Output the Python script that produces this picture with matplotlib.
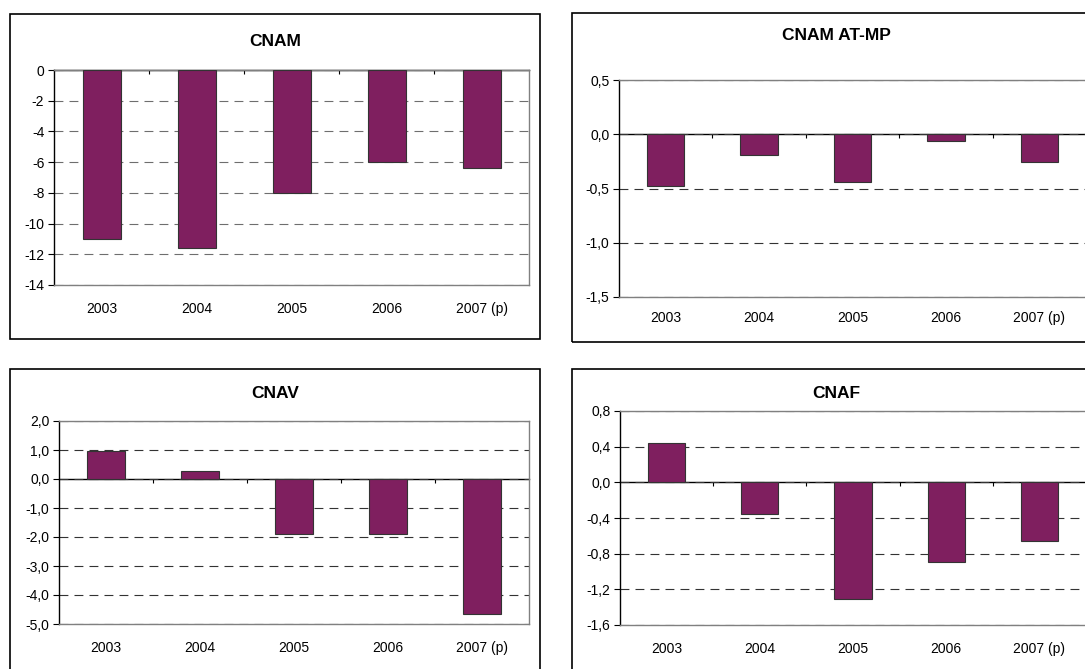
#!/usr/bin/env python3
"""
Balances of the social security branches, 2003-2007 (p)
"""
import matplotlib
matplotlib.use('Agg')
import matplotlib.pyplot as plt
from matplotlib.patches import Rectangle
from matplotlib.ticker import FixedLocator, FuncFormatter

plt.rcParams['font.family'] = ['Liberation Sans', 'DejaVu Sans']

years = ['2003', '2004', '2005', '2006', '2007 (p)']
cnam = [-11.0, -11.6, -8.0, -6.0, -6.4]
cnam_atmp = [-0.48, -0.19, -0.44, -0.06, -0.26]
cnav = [0.97, 0.27, -1.88, -1.88, -4.67]
cnaf = [0.44, -0.36, -1.31, -0.89, -0.66]

cnam_ticks = [0, -2, -4, -6, -8, -10, -12, -14]
atmp_ticks = [0.5, 0.0, -0.5, -1.0, -1.5]
cnav_ticks = [2.0, 1.0, 0.0, -1.0, -2.0, -3.0, -4.0, -5.0]
cnaf_ticks = [0.8, 0.4, 0.0, -0.4, -0.8, -1.2, -1.6]

BAR_COLOR = '#7f1f5f'
W, H = 1085, 669

fig = plt.figure(figsize=(W / 100, H / 100), dpi=100)


def px_rect(x0, y0, x1, y1):
    """ Converts pixel box (top-left origin) to figure fraction rect """
    return [x0 / W, 1 - y1 / H, (x1 - x0) / W, (y1 - y0) / H]


def comma_fmt(decimals):
    """ French style number format """
    def fmt(v, _):
        if decimals == 0:
            return '%d' % round(v)
        return ('%.*f' % (decimals, v)).replace('.', ',')
    return FuncFormatter(fmt)


def draw_panel(frame, box, title, title_y, values, ticks, decimals,
               grid_color='#333333', xpad=12):
    """ Draws one framed bar chart panel """
    fx0, fy0, fx1, fy1 = frame
    fig.patches.append(Rectangle((fx0 / W, 1 - fy1 / H), (fx1 - fx0) / W, (fy1 - fy0) / H,
                                 transform=fig.transFigure, fill=False,
                                 edgecolor='black', linewidth=1.2))
    fig.text((fx0 + fx1) / 2 / W, 1 - title_y / H, title, ha='center', va='center',
             fontsize=12.5, fontweight='bold')

    ax = fig.add_axes(px_rect(*box))
    x = list(range(len(values)))
    ax.bar(x, values, width=0.4, color=BAR_COLOR, edgecolor='#333333',
           linewidth=0.8, zorder=3)
    ax.set_xlim(-0.5, len(values) - 0.5)
    ax.set_ylim(min(ticks), max(ticks))
    ax.yaxis.set_major_locator(FixedLocator(ticks))
    ax.yaxis.set_major_formatter(comma_fmt(decimals))
    ax.yaxis.grid(True, color=grid_color, linestyle=(0, (8, 5.5)), linewidth=0.8)
    ax.set_axisbelow(True)
    ax.tick_params(axis='y', length=4, width=0.8, pad=3, labelsize=10, color='black')

    ax.set_xticks(x)
    ax.set_xticklabels(years)
    ax.tick_params(axis='x', length=0, pad=xpad, labelsize=10)

    for side in ['top', 'right', 'bottom']:
        ax.spines[side].set_color('#808080')
        ax.spines[side].set_linewidth(1)
    ax.spines['left'].set_color('black')
    ax.spines['left'].set_linewidth(1)

    # category axis drawn through zero
    zero = ax.secondary_xaxis(0, transform=ax.transData)
    zero.set_xticks([i + 0.5 for i in x[:-1]])
    zero.set_xticklabels([])
    zero.tick_params(axis='x', length=3, width=0.8, direction='out', color='black')
    zero.spines['bottom'].set_color('black')
    zero.spines['bottom'].set_linewidth(1)
    zero.spines['bottom'].set_zorder(4)
    return ax


draw_panel((10, 14, 540, 339), (54, 70, 529, 285), 'CNAM', 41,
           cnam, cnam_ticks, 0, grid_color='#6e6e6e')
draw_panel((572, 13, 1100, 342), (619, 80, 1086, 297), 'CNAM AT-MP', 35,
           cnam_atmp, atmp_ticks, 1, xpad=10)
draw_panel((10, 369, 540, 700), (59, 421, 529, 624), 'CNAV', 393,
           cnav, cnav_ticks, 1)
draw_panel((572, 369, 1100, 700), (620, 411, 1086, 625), 'CNAF', 393,
           cnaf, cnaf_ticks, 1)

fig.savefig('out.png', dpi=100)
plt.close(fig)
